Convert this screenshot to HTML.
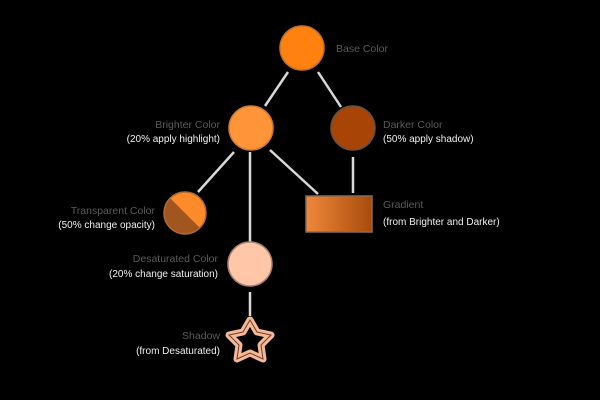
<!DOCTYPE html>
<html><head><style>body{margin:0;background:#000}svg{display:block}</style></head><body>
<svg width="600" height="400" viewBox="0 0 600 400" font-family="Liberation Sans, sans-serif" font-size="10.5">
<rect width="600" height="400" fill="#000"/>
<defs>
<linearGradient id="g" x1="0" x2="1"><stop offset="0" stop-color="#f0883a"/><stop offset="1" stop-color="#a84b0c"/></linearGradient>
<clipPath id="c"><circle cx="185" cy="213" r="21"/></clipPath>
</defs>
<g stroke="#d8d8d8" stroke-width="2.5">
<line x1="288" y1="72" x2="265" y2="106"/>
<line x1="318" y1="72" x2="341" y2="107"/>
<line x1="234" y1="152" x2="198" y2="192"/>
<line x1="250" y1="152" x2="250" y2="242"/>
<line x1="270" y1="150" x2="318" y2="194"/>
<line x1="353" y1="157" x2="353" y2="193"/>
<line x1="250" y1="292" x2="250" y2="316"/>
</g>
<circle cx="302" cy="48" r="22" fill="#ff8210" stroke="#c8702a" stroke-width="1.5"/>
<circle cx="251" cy="128" r="22" fill="#ff9538" stroke="#d07a35" stroke-width="1.5"/>
<circle cx="353" cy="128" r="22" fill="#a84406" stroke="#6e5040" stroke-width="1.5"/>
<g clip-path="url(#c)"><rect x="160" y="188" width="50" height="50" fill="#ff8a2a"/><polygon points="160,188 210,238 160,238" fill="#a0561e"/></g>
<circle cx="185" cy="213" r="21" fill="none" stroke="#b06a3a" stroke-width="1.5"/>
<rect x="306" y="196" width="66" height="36" fill="url(#g)" stroke="#8a6a50" stroke-width="1.5"/>
<circle cx="250" cy="264" r="22" fill="#ffc6a8" stroke="#aa8070" stroke-width="1.5"/>
<path d="M250,320 L257,332 L271,335 L261,345 L263,359 L250,353 L237,359 L239,345 L229,335 L243,332Z" fill="#000" stroke="#f7b896" stroke-width="7" stroke-linejoin="round"/>
<path d="M250,320 L257,332 L271,335 L261,345 L263,359 L250,353 L237,359 L239,345 L229,335 L243,332Z" fill="none" stroke="#6a4030" stroke-width="1"/>
<g fill="#5a5a5a">
<text x="336" y="52">Base Color</text>
<text x="220" y="128" text-anchor="end">Brighter Color</text>
<text x="383" y="128">Darker Color</text>
<text x="155" y="214" text-anchor="end">Transparent Color</text>
<text x="383" y="208">Gradient</text>
<text x="218" y="262" text-anchor="end">Desaturated Color</text>
<text x="220" y="339" text-anchor="end">Shadow</text>
</g>
<g fill="#f0f0f0" font-size="10">
<text x="220" y="142" text-anchor="end">(20% apply highlight)</text>
<text x="383" y="142">(50% apply shadow)</text>
<text x="155" y="228" text-anchor="end">(50% change opacity)</text>
<text x="383" y="225">(from Brighter and Darker)</text>
<text x="218" y="277" text-anchor="end">(20% change saturation)</text>
<text x="220" y="354" text-anchor="end">(from Desaturated)</text>
</g>
</svg>
</body></html>
